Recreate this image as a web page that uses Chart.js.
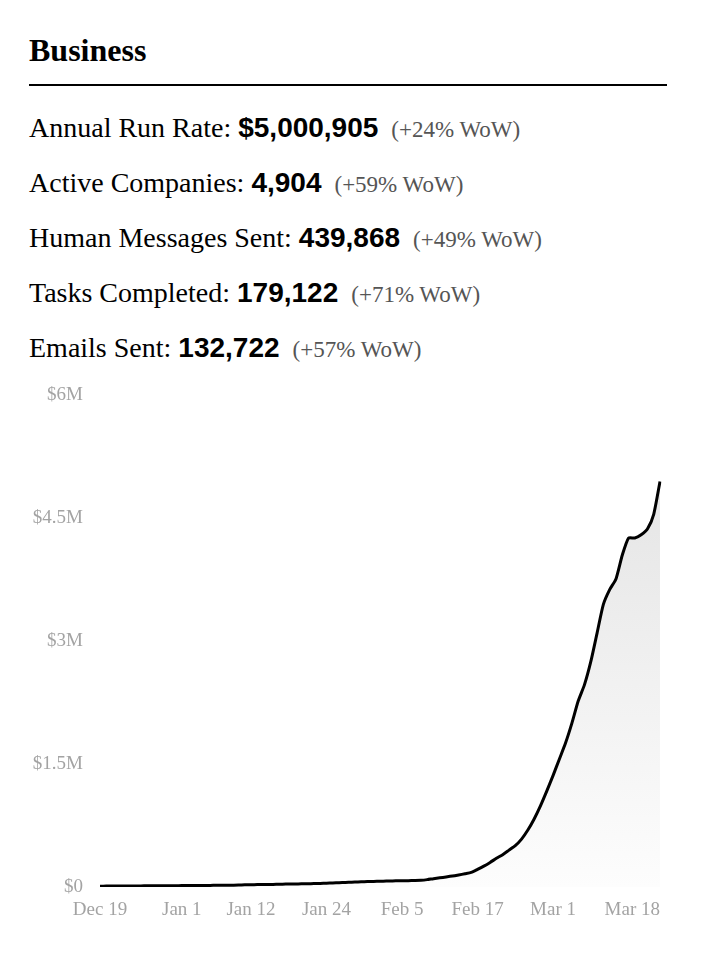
<!DOCTYPE html>
<html>
<head>
<meta charset="utf-8">
<script src="https://cdn.jsdelivr.net/npm/chart.js@4.4.1/dist/chart.umd.min.js"></script>
<style>
  html, body { margin: 0; padding: 0; background: #fff; }
  body { width: 706px; height: 980px; position: relative; overflow: hidden; }
  #title { position: absolute; left: 29px; top: 30px; font: bold 32px "Liberation Serif", "Times New Roman", serif; line-height: 40px; color: #000; }
  #rule { position: absolute; left: 29px; top: 84px; width: 638px; height: 2px; background: #000; }
  #stats { position: absolute; left: 29px; top: 112px; }
  .stat { height: 55px; line-height: 55px; white-space: nowrap; font: 28px "Liberation Serif", "Times New Roman", serif; color: #000; }
  .stat .val { font: bold 28px "Liberation Sans", Arial, sans-serif; }
  .stat .chg { font: 23px "Liberation Serif", "Times New Roman", serif; color: #555; margin-left: 6px; }
  #chartBox { position: absolute; left: 0; top: 380px; width: 670px; height: 547px; }
</style>
</head>
<body>
<div id="title">Business</div>
<div id="rule"></div>
<div id="stats"></div>
<div id="chartBox"><canvas id="c"></canvas></div>
<script>
// ---- Header stats ----
const statLabels  = ['Annual Run Rate:', 'Active Companies:', 'Human Messages Sent:', 'Tasks Completed:', 'Emails Sent:'];
const statValues  = ['$5,000,905', '4,904', '439,868', '179,122', '132,722'];
const statChanges = ['(+24% WoW)', '(+59% WoW)', '(+49% WoW)', '(+71% WoW)', '(+57% WoW)'];

// ---- Chart data (annual run rate, $M, daily from Dec 19) ----
const monthNames = ['Jan','Feb','Mar','Apr','May','Jun','Jul','Aug','Sep','Oct','Nov','Dec'];
const runRateM = [
  0.010,0.011,0.011,0.012,0.012,0.013,0.013,0.014,0.014,0.015,
  0.015,0.016,0.016,0.017,0.017,0.018,0.018,0.019,0.020,0.020,
  0.021,0.022,0.023,0.027,0.028,0.029,0.030,0.031,0.033,0.035,
  0.036,0.037,0.039,0.040,0.042,0.044,0.047,0.050,0.053,0.056,
  0.059,0.062,0.065,0.067,0.069,0.071,0.073,0.075,0.076,0.077,
  0.079,0.082,0.090,0.102,0.112,0.122,0.133,0.147,0.162,0.178,
  0.215,0.255,0.300,0.350,0.395,0.450,0.505,0.585,0.695,0.830,
  0.990,1.170,1.360,1.560,1.760,2.000,2.270,2.470,2.750,3.100,
  3.450,3.630,3.760,4.050,4.260,4.260,4.300,4.370,4.550,4.950
];
const xTickLabels = ['Dec 19','Jan 1','Jan 12','Jan 24','Feb 5','Feb 17','Mar 1','Mar 18'];
const yTickLabels = ['$0','$1.5M','$3M','$4.5M','$6M'];
const yStep = 1.5;

// category labels: consecutive days starting Dec 19
const dates = [];
{
  const d = new Date(2020, 11, 19);
  for (let i = 0; i < runRateM.length; i++) {
    dates.push(monthNames[d.getMonth()] + ' ' + d.getDate());
    d.setDate(d.getDate() + 1);
  }
}

// build header
const statsEl = document.getElementById('stats');
statLabels.forEach((lab, i) => {
  const row = document.createElement('div');
  row.className = 'stat';
  row.appendChild(document.createTextNode(lab + ' '));
  const v = document.createElement('span'); v.className = 'val'; v.textContent = statValues[i];
  row.appendChild(v);
  row.appendChild(document.createTextNode(' '));
  const c = document.createElement('span'); c.className = 'chg'; c.textContent = statChanges[i];
  row.appendChild(c);
  statsEl.appendChild(row);
});

const tickFont = { family: '"Liberation Serif", "Times New Roman", serif', size: 19 };
const tickColor = '#a3a3a3';

new Chart(document.getElementById('c'), {
  type: 'line',
  data: {
    labels: dates,
    datasets: [{
      data: runRateM,
      borderColor: '#000',
      borderWidth: 3,
      pointRadius: 0,
      pointHoverRadius: 0,
      tension: 0.2,
      fill: 'origin',
      backgroundColor: (ctx) => {
        const chart = ctx.chart;
        const area = chart.chartArea;
        if (!area) return 'rgba(0,0,0,0)';
        const g = chart.ctx.createLinearGradient(0, area.top, 0, area.bottom);
        g.addColorStop(0, '#e0e0e0');
        g.addColorStop(1, '#fdfdfd');
        return g;
      }
    }]
  },
  options: {
    responsive: true,
    maintainAspectRatio: false,
    animation: false,
    layout: { padding: { top: 15.5, right: 10, left: 0, bottom: 0 } },
    plugins: { legend: { display: false }, tooltip: { enabled: false } },
    scales: {
      x: {
        type: 'category',
        grid: { display: false, drawTicks: false },
        border: { display: false },
        afterBuildTicks: (scale) => {
          const t = [{ value: 0 }];
          xTickLabels.forEach(l => t.push({ value: dates.indexOf(l) }));
          scale.ticks = t;
        },
        afterFit: (scale) => {
          scale.height = 40;
          scale.paddingLeft = 0; scale.paddingRight = 0;
        },
        ticks: {
          autoSkip: false,
          maxRotation: 0,
          minRotation: 0,
          align: 'inner',
          padding: 12,
          font: tickFont,
          color: tickColor,
          callback: (value, index) => index === 0 ? '' : dates[value]
        }
      },
      y: {
        min: 0,
        max: 6,
        grid: { display: false, drawTicks: false },
        border: { display: false },
        afterFit: (scale) => {
          scale.width = 100;
          scale.paddingTop = 0; scale.paddingBottom = 0;
        },
        ticks: {
          stepSize: yStep,
          padding: 17,
          font: tickFont,
          color: tickColor,
          callback: (value) => yTickLabels[Math.round(value / yStep)]
        }
      }
    }
  }
});
</script>
</body>
</html>
